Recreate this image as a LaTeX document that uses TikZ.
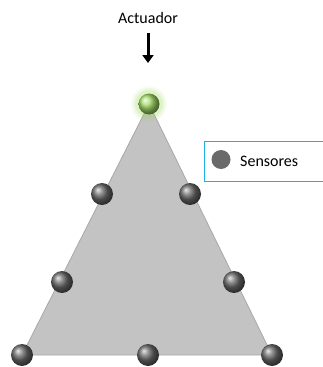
\documentclass[tikz,border=0pt]{standalone}
\usepackage{fontspec}
\setmainfont{Carlito}
\usetikzlibrary{shadings,arrows.meta}
\definecolor{plate}{HTML}{C3C3C3}
\definecolor{plateedge}{HTML}{A8A8A8}
\definecolor{legendblue}{HTML}{1AB0E8}
\definecolor{sensorgray}{HTML}{6A6A6A}
\definecolor{actgreen}{HTML}{9CDB5A}
\begin{document}
\begin{tikzpicture}[x=1pt,y=-1pt,
  sensor/.style={circle,minimum size=22pt,inner sep=0pt,shading=ball,ball color=sensorgray},
  actuator/.style={circle,minimum size=21pt,inner sep=0pt,shading=ball,ball color=actgreen!90!white},
  lbl/.style={font=\fontsize{16}{18}\selectfont,inner sep=0pt}]
\useasboundingbox (0,0) rectangle (322,367);
% plate
\coordinate (A) at (149,104);
\coordinate (L) at (22,355);
\coordinate (R) at (272,355);
\fill[plate] (A) -- (L) -- (R) -- cycle;
\draw[plateedge,line width=0.8pt] (A) -- (L) -- (R) -- cycle;
% actuator glow
\foreach \r/\o in {18/0.08,16/0.12,14/0.18}
  \fill[actgreen,opacity=\o] (A) circle (\r);
\node[actuator] (act) at (A) {};
% sensors
\node[sensor] (s1) at (102,194) {};
\node[sensor] (s2) at (190,194) {};
\node[sensor] (s3) at (62,282) {};
\node[sensor] (s4) at (234,282) {};
\node[sensor] (s5) at (22,355) {};
\node[sensor] (s6) at (148,355) {};
\node[sensor] (s7) at (272,355) {};
% actuator label and arrow
\node[lbl] (actlbl) at (148,18) {Actuador};
\coordinate (arrtop) at (148,33);
\coordinate (arrbot) at (148,63);
\draw[line width=3pt,-{Triangle[length=8pt,width=11pt]}] (arrtop) -- (arrbot);
% legend
\node[draw=legendblue,line width=1.3pt,minimum width=120pt,minimum height=40pt,anchor=west] (legend) at (204,161.5) {};
\fill[sensorgray] (221,159.5) circle (9.5);
\node[lbl,anchor=west] (legtxt) at (240,161) {Sensores};
\end{tikzpicture}
\end{document}
